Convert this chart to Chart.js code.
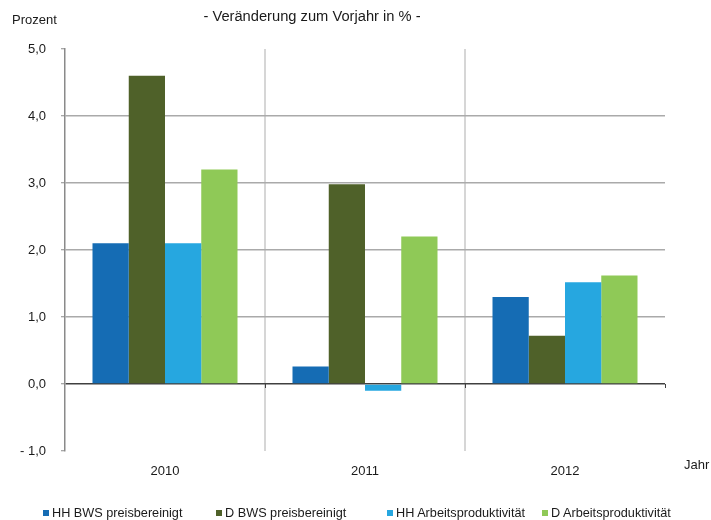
<!DOCTYPE html>
<html>
<head>
<meta charset="utf-8">
<script src="https://cdn.jsdelivr.net/npm/chart.js@4.4.1/dist/chart.umd.min.js"></script>
<style>
  html, body { margin:0; padding:0; background:#fff; overflow:hidden; }
  #wrap { position:relative; width:711px; height:520px; font-family:"Liberation Sans", Arial, sans-serif; color:#1a1a1a; }
  canvas { position:absolute; left:0; top:0; }
  .lbl { position:absolute; white-space:nowrap; }
  .leg { position:absolute; white-space:nowrap; font-size:12.7px; line-height:14px; }
  .leg i { display:inline-block; width:6px; height:6px; margin-right:3px; vertical-align:1px; }
</style>
</head>
<body>
<div id="wrap">
  <canvas id="c" width="711" height="520" style="width:711px;height:520px"></canvas>
  <div class="lbl" style="left:0;width:624px;text-align:center;top:8px;font-size:14.7px;">- Veränderung zum Vorjahr in % -</div>
  <div class="lbl" style="left:12px;top:12px;font-size:13px;">Prozent</div>
  <div class="lbl" style="left:684px;top:457px;font-size:13px;">Jahr</div>
  <div id="legend"></div>
</div>
<script>
const years = ['2010', '2011', '2012'];
const seriesNames = ['HH BWS preisbereinigt', 'D BWS preisbereinigt', 'HH Arbeitsproduktivität', 'D Arbeitsproduktivität'];
const hhBws = [2.1, 0.26, 1.3];
const dBws = [4.6, 2.98, 0.72];
const hhArb = [2.1, -0.1, 1.52];
const dArb = [3.2, 2.2, 1.62];
const yTicks = [-1, 0, 1, 2, 3, 4, 5];

const seriesColors = ['#156cb4', '#4f6129', '#26a7e0', '#8fc957'];
const seriesValues = [hhBws, dBws, hhArb, dArb];
const legendLeft = [43, 216, 387, 542];

// HTML legend
const leg = document.getElementById('legend');
seriesNames.forEach((n, i) => {
  const d = document.createElement('div');
  d.className = 'leg';
  d.style.left = legendLeft[i] + 'px';
  d.style.top = '506px';
  d.innerHTML = '<i style="background:' + seriesColors[i] + '"></i>' + n;
  leg.appendChild(d);
});

const fmt = v => (v < 0 ? '- ' + Math.abs(v).toFixed(1) : v.toFixed(1)).replace('.', ',');

// small tick marks below the zero line at category boundaries
const zeroTicks = {
  id: 'zeroTicks',
  afterDatasetsDraw(chart) {
    const { ctx, scales: { x, y } } = chart;
    const y0 = Math.round(y.getPixelForValue(0));
    ctx.save();
    ctx.strokeStyle = '#404040';
    ctx.lineWidth = 1;
    for (let i = 1; i <= years.length; i++) {
      const px = Math.round((x.getPixelForValue(i - 1) + (i < years.length ? x.getPixelForValue(i) : x.getPixelForValue(i - 1) + (x.getPixelForValue(1) - x.getPixelForValue(0)))) / 2) + 0.5;
      ctx.beginPath();
      ctx.moveTo(px, y0);
      ctx.lineTo(px, y0 + 4);
      ctx.stroke();
    }
    ctx.restore();
  }
};

new Chart(document.getElementById('c'), {
  type: 'bar',
  data: {
    labels: years,
    datasets: seriesNames.map((n, i) => ({
      label: n,
      data: seriesValues[i],
      backgroundColor: seriesColors[i],
      borderWidth: 0,
      categoryPercentage: 0.725,
      barPercentage: 1.0
    }))
  },
  plugins: [zeroTicks],
  options: {
    responsive: false,
    devicePixelRatio: 1,
    animation: false,
    layout: { padding: { top: 49, right: 46, left: 0, bottom: 0 } },
    plugins: { legend: { display: false }, tooltip: { enabled: false }, title: { display: false } },
    scales: {
      x: {
        offset: true,
        border: { display: false },
        grid: {
          offset: true,
          drawTicks: false,
          lineWidth: 2,
          color: ctx => (ctx.index === 1 || ctx.index === 2) ? '#d6d6d6' : 'rgba(0,0,0,0)'
        },
        ticks: {
          padding: 13,
          color: '#1a1a1a',
          font: { family: '"Liberation Sans", Arial, sans-serif', size: 13 }
        },
        afterFit: s => { s.height = 69; }
      },
      y: {
        min: -1,
        max: 5,
        afterBuildTicks: s => { s.ticks = yTicks.map(v => ({ value: v })); },
        border: { display: true, color: '#8a8a8a', width: 1.5 },
        grid: {
          drawTicks: true,
          tickLength: 4,
          tickColor: '#8a8a8a',
          tickWidth: 1,
          lineWidth: 1.5,
          color: ctx => {
            const v = ctx.tick ? ctx.tick.value : null;
            if (v === 0) return '#404040';
            if (v >= 1 && v <= 4) return '#aaaaaa';
            return 'rgba(0,0,0,0)';
          }
        },
        ticks: {
          padding: 15,
          color: '#1a1a1a',
          font: { family: '"Liberation Sans", Arial, sans-serif', size: 13 },
          callback: v => fmt(v)
        },
        afterFit: s => { s.width = 65; }
      }
    }
  }
});
</script>
</body>
</html>
